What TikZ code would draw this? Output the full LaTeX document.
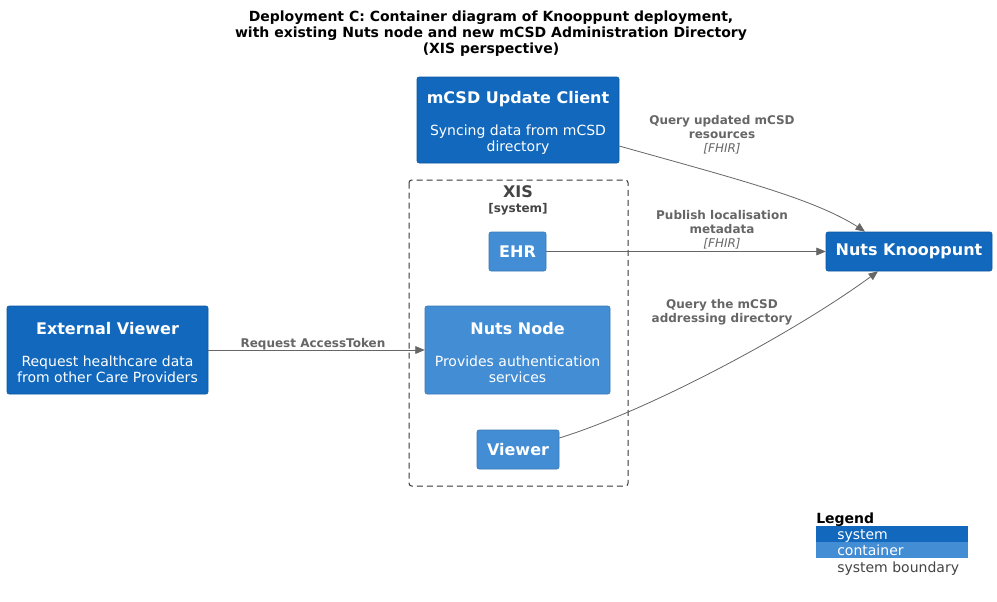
\documentclass[tikz,border=0pt]{standalone}
\usepackage{fontspec}
\setmainfont{DejaVu Sans}
\usetikzlibrary{arrows,positioning}
\definecolor{sysblue}{HTML}{1168BD}
\definecolor{contblue}{HTML}{438DD5}
\definecolor{relgray}{HTML}{666666}
\definecolor{bndgray}{HTML}{444444}
\newcommand{\boxtitle}[1]{{\fontsize{12}{14}\selectfont\bfseries #1}}

\begin{document}
\begin{tikzpicture}[x=0.75pt,y=-0.75pt,
    system/.style={draw=sysblue!85!black, fill=sysblue, text=white, rounded corners=1.5pt,
                   align=center, inner sep=0pt, font=\fontsize{10.5}{12}\selectfont},
    container/.style={system, draw=contblue!85!black, fill=contblue},
    rel/.style={draw=relgray, line width=0.6pt, -triangle 45},
    rellabel/.style={text=relgray, align=center, font=\fontsize{9}{10.5}\selectfont\bfseries},
    legendtext/.style={anchor=base west, inner sep=0pt, font=\fontsize{10.5}{12}\selectfont}
]
    \useasboundingbox[fill=white] (0,0) rectangle (997,601);

    % title
    \node[align=center, font=\fontsize{10.5}{12}\selectfont\bfseries] (title) at (491,34)
        {Deployment C: Container diagram of Knooppunt deployment,\\
         with existing Nuts node and new mCSD Administration Directory\\
         (XIS perspective)};

    % XIS boundary
    \draw[bndgray!80!black, dash pattern=on 4.5pt off 3pt, line width=0.75pt, rounded corners=2pt] (409,180) rectangle (628,486);
    \node[text=bndgray, font=\fontsize{12}{14}\selectfont\bfseries] (xis) at (518,192) {XIS};
    \node[text=bndgray, font=\fontsize{9}{10}\selectfont\bfseries] (xistype) at (518,209) {[system]};

    % systems and containers
    \node[system, minimum width=151.5pt, minimum height=64.5pt] (mcsd) at (518,120)
        {\rule{0pt}{13pt}\boxtitle{mCSD Update Client}\\[12pt]Syncing data from mCSD\\directory};
    \node[container, minimum width=42.75pt, minimum height=29.25pt] (ehr) at (517.5,251.5)
        {\boxtitle{EHR}};
    \node[container, minimum width=138.75pt, minimum height=66pt] (nutsnode) at (517.5,350)
        {\rule{0pt}{13pt}\boxtitle{Nuts Node}\\[12pt]Provides authentication\\services};
    \node[container, minimum width=61.5pt, minimum height=29.25pt] (viewer) at (518,449.5)
        {\boxtitle{Viewer}};
    \node[system, minimum width=150.75pt, minimum height=66pt] (extviewer) at (107.5,350)
        {\rule{0pt}{13pt}\boxtitle{External Viewer}\\[12pt]Request healthcare data\\from other Care Providers};
    \node[system, minimum width=124.5pt, minimum height=29.25pt] (knooppunt) at (909,251.5)
        {\boxtitle{Nuts Knooppunt}};

    % relations
    \draw[rel] ([yshift=-19.5pt]mcsd.east) .. controls (740,180) and (820,200) .. ([xshift=-33pt]knooppunt.north);
    \draw[rel] (ehr.east) -- (knooppunt.west);
    \draw[rel] ([yshift=8.6pt]viewer.east) .. controls (650,410) and (800,330) .. ([xshift=-23.25pt]knooppunt.south);
    \draw[rel] (extviewer.east) -- (nutsnode.west);

    \node[rellabel] (lbl1) at (722,135) {Query updated mCSD\\resources\\{\mdseries\itshape [FHIR]}};
    \node[rellabel] (lbl2) at (722,230) {Publish localisation\\metadata\\{\mdseries\itshape [FHIR]}};
    \node[rellabel] (lbl3) at (722,312.5) {Query the mCSD\\addressing directory};
    \node[rellabel] (lbl4) at (313,344) {Request AccessToken};

    % legend
    \node[legendtext, font=\fontsize{10.5}{12}\selectfont\bfseries] (legend) at (816,523) {Legend};
    \fill[sysblue] (816,526) rectangle (968,542);
    \fill[contblue] (816,542) rectangle (968,558);
    \node[legendtext, text=white] (lgsys) at (837,539) {system};
    \node[legendtext, text=white] (lgcont) at (837,555) {container};
    \node[legendtext, text=bndgray] (lgbnd) at (837,572) {system boundary};
\end{tikzpicture}
\end{document}
